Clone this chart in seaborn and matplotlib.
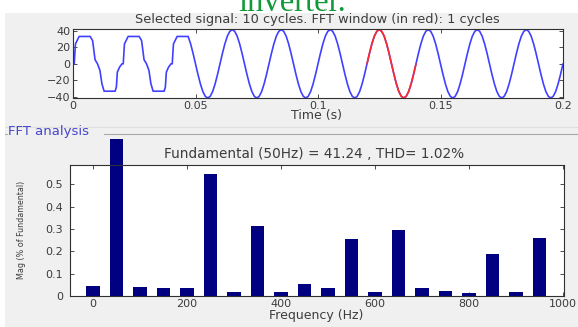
import numpy as np
import pandas as pd
import matplotlib
matplotlib.use("Agg")
import matplotlib.pyplot as plt
from matplotlib.patches import Rectangle
from matplotlib.lines import Line2D
import seaborn as sns

# ---------------- data ----------------
# one cycle of the stepped (multilevel) waveform: time offset (s) and value
ml_cycle_t = [0.0, 0.0005, 0.0010, 0.0025, 0.0070, 0.0080, 0.0090, 0.0100,
              0.0110, 0.0118, 0.0127, 0.0172, 0.0177, 0.0181, 0.0190]
ml_cycle_v = [0, 0, 24, 33, 33, 28, 5, 0, -8, -24, -33, -33, -28, -10, -4]
ml_cycle_starts = [0.0, 0.02, 0.04]
ml_end = 0.047

# sinusoidal part: readings every 1 ms over one 50 Hz cycle
sine_cycle_v = [0, 12.7, 24.2, 33.4, 39.2, 41.2, 39.2, 33.4, 24.2, 12.7,
                0, -12.7, -24.2, -33.4, -39.2, -41.2, -39.2, -33.4, -24.2, -12.7]
sine_step_ms = 1
sine_first_ms = 48
sine_last_ms = 200

fft_window = (0.12, 0.14)

top_xticks = [0, 0.05, 0.1, 0.15, 0.2]
top_xticklabels = ["0", "0.05", "0.1", "0.15", "0.2"]
top_yticks = [-40, -20, 0, 20, 40]

freqs = [0, 50, 100, 150, 200, 250, 300, 350, 400, 450,
         500, 550, 600, 650, 700, 750, 800, 850, 900, 950]
mags = [0.045, 100, 0.04, 0.035, 0.035, 0.545, 0.018, 0.315, 0.02, 0.054,
        0.035, 0.256, 0.017, 0.295, 0.035, 0.022, 0.012, 0.19, 0.02, 0.26]
bot_xticks = [0, 200, 400, 600, 800, 1000]
bot_yticks = [0, 0.1, 0.2, 0.3, 0.4, 0.5]
bot_yticklabels = ["0", "0.1", "0.2", "0.3", "0.4", "0.5"]

top_title = "Selected signal: 10 cycles. FFT window (in red): 1 cycles"
top_xlabel = "Time (s)"
panel_label = "FFT analysis"
bot_title = "Fundamental (50Hz) = 41.24 , THD= 1.02%"
bot_xlabel = "Frequency (Hz)"
bot_ylabel = "Mag (% of Fundamental)"
caption = "inverter."

# ---------------- build signal table ----------------
t_list, v_list = [], []
for s in ml_cycle_starts:
    for dt, v in zip(ml_cycle_t, ml_cycle_v):
        t = round(s + dt, 5)
        if t <= ml_end:
            t_list.append(t)
            v_list.append(v)
for k in range(sine_first_ms, sine_last_ms + 1, sine_step_ms):
    t_list.append(k / 1000.0)
    v_list.append(sine_cycle_v[k % len(sine_cycle_v)])
sig = pd.DataFrame({"t": t_list, "v": v_list})
win = sig[(sig.t >= fft_window[0] - 1e-9) & (sig.t <= fft_window[1] + 1e-9)]
fft = pd.DataFrame({"f": freqs, "m": mags})

# ---------------- figure ----------------
sns.set_theme(style="ticks")
plt.rcParams["font.family"] = ["DejaVu Sans"]
W, H = 578, 327
fig = plt.figure(figsize=(W / 100, H / 100), dpi=100)
fig.patch.set_facecolor("#f0f0f0")

def fx(px):
    return px / W

def fy(py):
    return 1 - py / H

# white band at the top and thin white strip at the left
fig.patches.append(Rectangle((0, fy(13)), 1, 1 - fy(13), transform=fig.transFigure,
                             facecolor="white", edgecolor="none", zorder=0))
fig.patches.append(Rectangle((0, 0), fx(5), fy(13), transform=fig.transFigure,
                             facecolor="white", edgecolor="none", zorder=0))

tick_col = "#3c3c3c"
tfs = 8

# ---- top axes ----
ax1 = fig.add_axes([fx(73), fy(98), fx(563) - fx(73), fy(29) - fy(98)])
sns.lineplot(data=sig, x="t", y="v", ax=ax1, color="#4040ff", lw=1.2,
             estimator=None, sort=False)
sns.lineplot(data=win, x="t", y="v", ax=ax1, color="#ff2a2a", lw=1.2,
             estimator=None, sort=False)
ax1.set_xlim(0, 0.2)
ax1.set_ylim(-41.2, 42)
ax1.set_xticks(top_xticks)
ax1.set_xticklabels(top_xticklabels)
ax1.set_yticks(top_yticks)
ax1.set_xlabel("")
ax1.set_ylabel("")

# ---- bottom axes ----
ax2 = fig.add_axes([fx(70), fy(296), fx(564) - fx(70), fy(165) - fy(296)])
sns.barplot(data=fft, x="f", y="m", ax=ax2, native_scale=True, width=0.56,
            color="#000080", saturation=1, edgecolor="none")
ax2.set_xlim(-49, 1002)
ax2.set_ylim(0, 0.587)
ax2.set_xticks(bot_xticks)
ax2.set_yticks(bot_yticks)
ax2.set_yticklabels(bot_yticklabels)
ax2.set_xlabel("")
ax2.set_ylabel("")
clip_rect = Rectangle((0, 0), 1, fy(139), transform=fig.transFigure)
for p in ax2.patches:
    if p.get_height() > 0.587:
        p.set_clip_path(clip_rect)

for ax in (ax1, ax2):
    ax.set_facecolor("white")
    for sp in ax.spines.values():
        sp.set_visible(True)
        sp.set_color("#303030")
        sp.set_linewidth(0.8)
    ax.tick_params(direction="in", top=True, right=True, length=3, width=0.6,
                   color="#303030", labelsize=tfs, labelcolor=tick_col, pad=2)
ax2.tick_params(axis="y", pad=5)

# ---- texts ----
fig.text(fx(317), fy(19), top_title, ha="center", va="center", fontsize=9.3,
         color=tick_col)
fig.text(fx(316), fy(116), top_xlabel, ha="center", va="center", fontsize=9,
         color=tick_col)
fig.text(fx(314), fy(154), bot_title, ha="center", va="center", fontsize=9.8,
         color=tick_col)
fig.text(fx(316), fy(315), bot_xlabel, ha="center", va="center", fontsize=9,
         color=tick_col)
fig.text(fx(22), fy(230), bot_ylabel, ha="center", va="center", fontsize=6.4,
         rotation=90, color=tick_col, fontstretch="condensed")
fig.text(fx(8), fy(131), panel_label, ha="left", va="center", fontsize=9.5,
         color="#4646d0")
fig.text(fx(292), fy(11), caption, ha="center", va="baseline", fontsize=23.5,
         color="#119a3a", family=["Liberation Serif", "DejaVu Serif"])

# panel frame lines
fig.lines.append(Line2D([fx(104), 1], [fy(134), fy(134)], transform=fig.transFigure,
                        color="#a8a8a8", lw=0.8))
fig.lines.append(Line2D([fx(5), fx(7)], [fy(134), fy(134)], transform=fig.transFigure,
                        color="#a8a8a8", lw=0.8))
fig.lines.append(Line2D([fx(5), 1], [fy(127), fy(127)], transform=fig.transFigure,
                        color="#dedede", lw=0.8))

fig.savefig("out.png", dpi=100, facecolor=fig.get_facecolor())
